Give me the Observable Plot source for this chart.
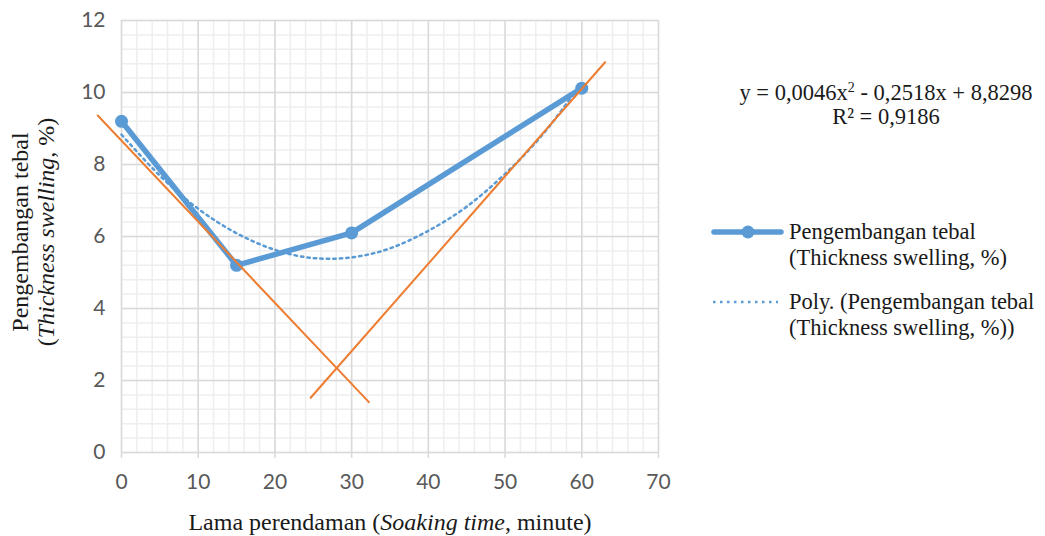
<!DOCTYPE html>
<html><head><meta charset="utf-8">
<script src="https://cdn.jsdelivr.net/npm/d3@7"></script>
<script src="https://cdn.jsdelivr.net/npm/@observablehq/plot@0.6"></script>
<style>
body{margin:0;background:#fff;}
#wrap{position:relative;width:1045px;height:536px;overflow:hidden;}
.serif{font-family:"Liberation Serif","Times New Roman",serif;color:#1a1a1a;position:absolute;white-space:nowrap;}
</style></head>
<body><div id="wrap"></div>
<script>
// Data
const times = [0, 15, 30, 60];
const swelling = [9.2, 5.2, 6.1, 10.12];
// polynomial trendline values
const trendX = [0, 5, 10, 15, 20, 25, 30, 35, 40, 45, 50, 55, 60];
const trendY = [8.83, 7.69, 6.77, 6.09, 5.63, 5.40, 5.42, 5.67, 6.16, 6.83, 7.74, 8.86, 10.28];
// orange hand-drawn tangent lines (endpoints)
const line1X = [-3.1, 32.25], line1Y = [9.36, 1.4];
const line2X = [24.66, 63.04], line2Y = [1.52, 10.84];
const xTicks = [0, 10, 20, 30, 40, 50, 60, 70];
const yTicks = [0, 2, 4, 6, 8, 10, 12];
const xMinor = [0, 2, 4, 6, 8, 10, 12, 14, 16, 18, 20, 22, 24, 26, 28, 30, 32, 34, 36, 38, 40, 42, 44, 46, 48, 50, 52, 54, 56, 58, 60, 62, 64, 66, 68, 70];
const yMinor = [0, 0.4, 0.8, 1.2, 1.6, 2, 2.4, 2.8, 3.2, 3.6, 4, 4.4, 4.8, 5.2, 5.6, 6, 6.4, 6.8, 7.2, 7.6, 8, 8.4, 8.8, 9.2, 9.6, 10, 10.4, 10.8, 11.2, 11.6, 12];

const series = times.map((t, i) => ({x: t, y: swelling[i]}));
const trend = trendX.map((t, i) => ({x: t, y: trendY[i]}));
const o1 = line1X.map((t, i) => ({x: t, y: line1Y[i]}));
const o2 = line2X.map((t, i) => ({x: t, y: line2Y[i]}));

const blue = "#5b9bd5", orange = "#ed7d31";

const chart = Plot.plot({
  width: 1045, height: 536,
  marginLeft: 121, marginRight: 387, marginTop: 20, marginBottom: 84,
  x: {domain: [0, 70]},
  y: {domain: [0, 12]},
  style: {fontFamily: "Lato, 'Open Sans', sans-serif", fontSize: "21px", color: "#595959", background: "#fff"},
  marks: [
    Plot.ruleX(xMinor, {stroke: "#eeeeee", strokeWidth: 1.5, strokeOpacity: 1}),
    Plot.ruleY(yMinor, {stroke: "#eeeeee", strokeWidth: 1.5, strokeOpacity: 1}),
    Plot.ruleX(xTicks, {stroke: "#d9d9d9", strokeWidth: 1.5, strokeOpacity: 1}),
    Plot.ruleY(yTicks, {stroke: "#d9d9d9", strokeWidth: 1.5, strokeOpacity: 1}),
    Plot.axisX({ticks: xTicks, tickSize: 6, tickPadding: 16, label: null, stroke: "#d9d9d9", strokeWidth: 1.5, fill: "#595959"}),
    Plot.axisY({ticks: yTicks, tickSize: 0, tickPadding: 16, label: null, fill: "#595959"}),
    Plot.line(series, {x: "x", y: "y", stroke: blue, strokeWidth: 5.5, strokeLinejoin: "round"}),
    Plot.dot(series, {x: "x", y: "y", r: 6.5, fill: blue, stroke: "none"}),
    Plot.line(trend, {x: "x", y: "y", curve: "natural", stroke: blue, strokeWidth: 2.5, strokeDasharray: "2.5,4"}),
    Plot.line(o1, {x: "x", y: "y", stroke: orange, strokeWidth: 2}),
    Plot.line(o2, {x: "x", y: "y", stroke: orange, strokeWidth: 2})
  ]
});
const wrap = document.getElementById("wrap");
wrap.appendChild(chart);

function addText(html, style) {
  const d = document.createElement("div");
  d.className = "serif";
  d.innerHTML = html;
  Object.assign(d.style, style);
  wrap.appendChild(d);
  return d;
}
// x axis title
addText('Lama perendaman (<i>Soaking time</i>, minute)', {left: "390px", top: "508px", fontSize: "24px", lineHeight: "28px", transform: "translateX(-50%)"});
// y axis title
addText('<div style="text-align:center;line-height:26px">Pengembangan tebal<br>(<i>Thickness swelling</i>, %)</div>',
  {left: "33px", top: "232px", fontSize: "24px", transform: "translate(-50%,-50%) rotate(-90deg)"});
// equation
addText('<div style="text-align:center;line-height:24px">y = 0,0046x<sup style="font-size:14px;line-height:0">2</sup> - 0,2518x + 8,8298<br>R² = 0,9186</div>',
  {left: "886px", top: "81px", fontSize: "22.5px", transform: "translateX(-50%)"});
// legend
const leg = document.createElement("div");
leg.style.cssText = "position:absolute;left:710px;top:217px;";
leg.innerHTML = `
<svg width="74" height="120" style="position:absolute;left:0;top:0">
  <line x1="4" y1="15" x2="71" y2="15" stroke="${blue}" stroke-width="5.5" stroke-linecap="round"/>
  <circle cx="38" cy="15" r="6.5" fill="${blue}"/>
  <line x1="3" y1="85" x2="68" y2="85" stroke="${blue}" stroke-width="2.5" stroke-dasharray="2.5,4.5"/>
</svg>`;
wrap.appendChild(leg);
addText('<div style="line-height:26px">Pengembangan tebal<br>(Thickness swelling, %)</div>', {left: "789px", top: "219px", fontSize: "22.5px"});
addText('<div style="line-height:26px">Poly. (Pengembangan tebal<br>(Thickness swelling, %))</div>', {left: "789px", top: "289px", fontSize: "22.5px"});
</script>
</body></html>
